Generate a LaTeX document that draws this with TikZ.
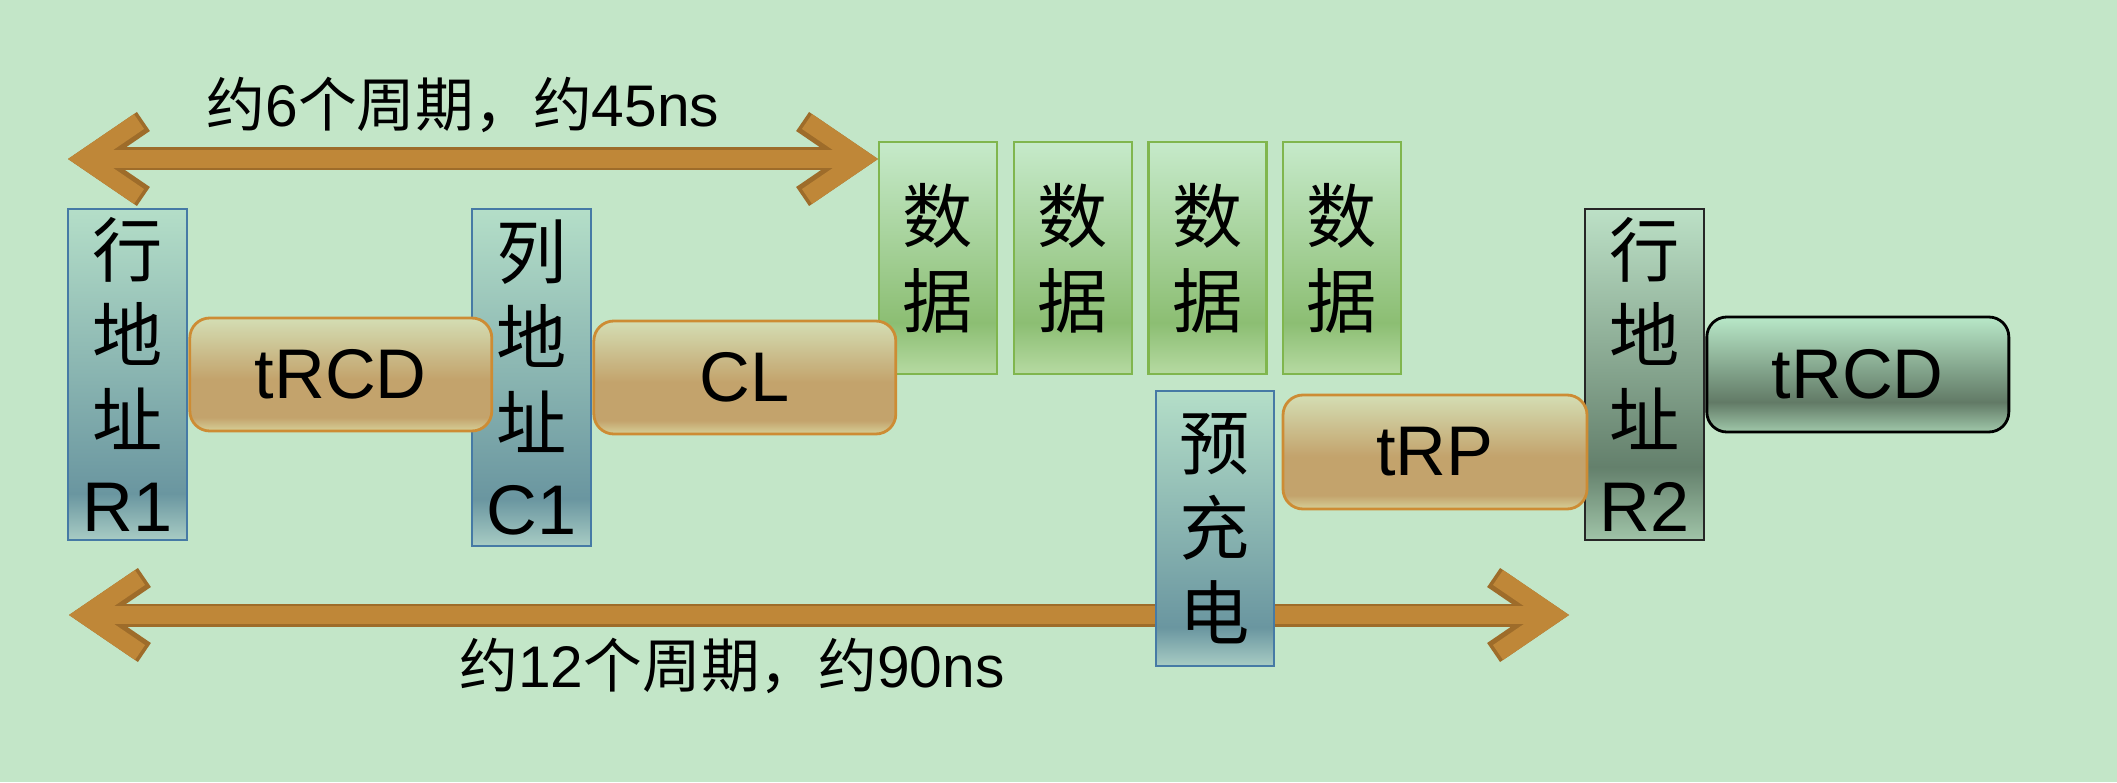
\documentclass[tikz,border=0pt]{standalone}
\usepackage{fontspec}
\setmainfont{Liberation Sans}
\newfontfamily\cjk{Noto Sans CJK SC}
\usetikzlibrary{positioning}
\usetikzlibrary{arrows.meta}
\definecolor{bgcol}{RGB}{195,230,200}
\definecolor{spanfill}{RGB}{191,135,56}
\definecolor{spanedge}{RGB}{158,108,42}
\definecolor{addredge}{RGB}{70,122,165}
\definecolor{addrtop}{RGB}{180,222,200}
\definecolor{addrmid}{RGB}{106,150,160}
\definecolor{addrlow}{RGB}{168,204,196}
\definecolor{timeedge}{RGB}{205,140,52}
\definecolor{timetop}{RGB}{212,222,180}
\definecolor{timemid}{RGB}{195,163,108}
\definecolor{timelow}{RGB}{214,208,152}
\definecolor{dataedge}{RGB}{128,182,78}
\definecolor{datatop}{RGB}{198,234,202}
\definecolor{datamid}{RGB}{140,190,115}
\definecolor{datalow}{RGB}{182,218,162}
\definecolor{rowtop}{RGB}{188,224,198}
\definecolor{rowmid}{RGB}{100,128,108}
\definecolor{rowlow}{RGB}{160,196,168}
\definecolor{nexttop}{RGB}{184,232,200}
\definecolor{nextmid}{RGB}{98,122,102}
\definecolor{nextlow}{RGB}{160,200,170}
\pgfdeclareverticalshading{addrshade}{100bp}{color(0bp)=(addrlow); color(25bp)=(addrlow); color(32bp)=(addrmid); color(75bp)=(addrtop); color(100bp)=(addrtop)}
\pgfdeclareverticalshading{timeshade}{100bp}{color(0bp)=(timelow); color(25bp)=(timelow); color(31bp)=(timemid); color(48bp)=(timemid); color(75bp)=(timetop); color(100bp)=(timetop)}
\pgfdeclareverticalshading{datashade}{100bp}{color(0bp)=(datalow); color(25bp)=(datalow); color(36bp)=(datamid); color(75bp)=(datatop); color(100bp)=(datatop)}
\pgfdeclareverticalshading{rowshade}{100bp}{color(0bp)=(rowlow); color(25bp)=(rowlow); color(36bp)=(rowmid); color(75bp)=(rowtop); color(100bp)=(rowtop)}
\pgfdeclareverticalshading{nextshade}{100bp}{color(0bp)=(nextlow); color(25bp)=(nextlow); color(38bp)=(nextmid); color(75bp)=(nexttop); color(100bp)=(nexttop)}
\newcommand\zh[1]{{\cjk #1}}
\tikzstyle{box} = [line width=0.8pt, inner sep=0pt, align=center, text=black, font=\fontsize{20}{24.2}\selectfont]
\tikzstyle{span} = [line width=0.18cm, draw=spanfill, {Straight Barb[length=0.55cm,width=0.75cm]}-{Straight Barb[length=0.55cm,width=0.75cm]}, preaction={draw=spanedge, line width=0.23cm}]

\begin{document}
\begin{tikzpicture}
    \tikzstyle{addr} = [box, draw=addredge, shade, shading=addrshade, minimum width=1.19cm, minimum height=3.31cm]
    \tikzstyle{timing} = [box, draw=timeedge, shade, shading=timeshade, rounded corners=0.2cm, minimum width=3.02cm, minimum height=1.13cm]
    \tikzstyle{data} = [box, draw=dataedge, shade, shading=datashade, minimum width=1.18cm, minimum height=2.32cm]
    \fill[bgcol] (0,0) rectangle (21.17,7.82);
    \useasboundingbox (0,0) rectangle (21.17,7.82);

    \coordinate (t1) at (0.68,6.23);
    \coordinate (t2) at (8.78,6.23);
    \coordinate (b1) at (0.69,1.67);
    \coordinate (b2) at (15.69,1.67);
    \draw[span] (t1) -- (t2);
    \draw[span] (b1) -- (b2);
    \node[font=\fontsize{16.7}{20}\selectfont] (toplab) at (4.63,6.77) {\zh{约}6\zh{个周期，约}45ns};
    \node[font=\fontsize{16.7}{20}\selectfont] (botlab) at (7.32,1.16) {\zh{约}12\zh{个周期，约}90ns};

    \node[addr] (r1) at (1.275,4.075) {\zh{行}\\\zh{地}\\\zh{址}\\R1};
    \node[addr, minimum height=3.37cm] (c1) at (5.315,4.045) {\zh{列}\\\zh{地}\\\zh{址}\\C1};
    \foreach \i/\x in {1/9.38, 2/10.73, 3/12.075, 4/13.42}
        \node[data] (d\i) at (\x,5.24) {\zh{数}\\\zh{据}};
    \node[addr, minimum width=1.18cm, minimum height=2.75cm] (pre) at (12.15,2.535) {\zh{预}\\\zh{充}\\\zh{电}};
    \node[addr, draw=black!85, shading=rowshade] (r2) at (16.445,4.075) {\zh{行}\\\zh{地}\\\zh{址}\\R2};

    \node[timing, right=0pt of r1] (trcd) {tRCD};
    \node[timing, right=0pt of c1] (cl) {CL};
    \node[timing, minimum width=3.04cm, minimum height=1.14cm] (trp) at (14.35,3.30) {tRP};
    \node[timing, draw=black, shading=nextshade, minimum height=1.15cm, right=0pt of r2] (trcdb) {tRCD};
\end{tikzpicture}
\end{document}
